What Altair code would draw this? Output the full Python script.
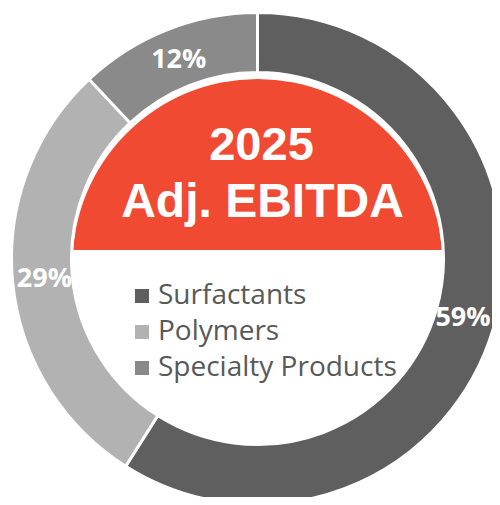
import math
import altair as alt
import pandas as pd

segments = ["Surfactants", "Polymers", "Specialty Products"]
shares = [59, 29, 12]
share_labels = ["59%", "29%", "12%"]
seg_colors = ["#5f5f5f", "#b2b2b2", "#8a8a8a"]
title_lines = ["2025", "Adj. EBITDA"]

df = pd.DataFrame({
    "segment": segments,
    "share": shares,
    "label": share_labels,
    "idx": list(range(len(segments))),
})

CX, CY = 249.5, 250.5

color = alt.Color(
    "segment:N",
    scale=alt.Scale(domain=segments, range=seg_colors),
    sort=segments,
    legend=alt.Legend(
        orient="none", legendX=120, legendY=274, title=None,
        symbolType="square", symbolSize=196, symbolStrokeWidth=0, symbolOpacity=1,
        labelFont="Open Sans", labelFontSize=28, labelColor="#595959",
        labelOffset=2, rowPadding=8, padding=0, labelLimit=400,
    ),
)

base = alt.Chart(df).encode(
    theta=alt.Theta("share:Q", stack=True),
    order=alt.Order("idx:Q"),
    x=alt.value(CX),
    y=alt.value(CY),
)

ring = base.mark_arc(outerRadius=246, innerRadius=186, stroke="white", strokeWidth=3).encode(color=color)
pct = base.mark_text(
    radius=214, font="Open Sans", fontWeight="bold", fontSize=27,
    color="white", baseline="middle", align="center",
).encode(text="label:N")

one = alt.Data(values=[{"k": 1}])
red = alt.Chart(one).mark_arc(
    theta=0, theta2=2 * math.pi, outerRadius=185, innerRadius=0, color="#f04b32"
).encode(x=alt.value(CX), y=alt.value(256))

mask = alt.Chart(one).mark_rect(color="white").encode(
    x=alt.value(62), x2=alt.value(438), y=alt.value(242), y2=alt.value(440)
)

t1 = alt.Chart(alt.Data(values=[{"t": title_lines[0]}])).mark_text(
    font="Liberation Sans", fontWeight="bold", fontSize=47, color="white",
    align="center", baseline="alphabetic",
).encode(text="t:N", x=alt.value(253.5), y=alt.value(152))

t2 = alt.Chart(alt.Data(values=[{"t": title_lines[1]}])).mark_text(
    font="Liberation Sans", fontWeight="bold", fontSize=48, color="white",
    align="center", baseline="alphabetic",
).encode(text="t:N", x=alt.value(254.5), y=alt.value(209))

chart = alt.layer(red, mask, ring, pct, t1, t2).properties(
    width=484, height=489, padding=0,
    autosize=alt.AutoSizeParams(type="none"),
).configure_view(stroke=None)

chart.save("out.html", embed_options={"renderer": "svg", "actions": False})
